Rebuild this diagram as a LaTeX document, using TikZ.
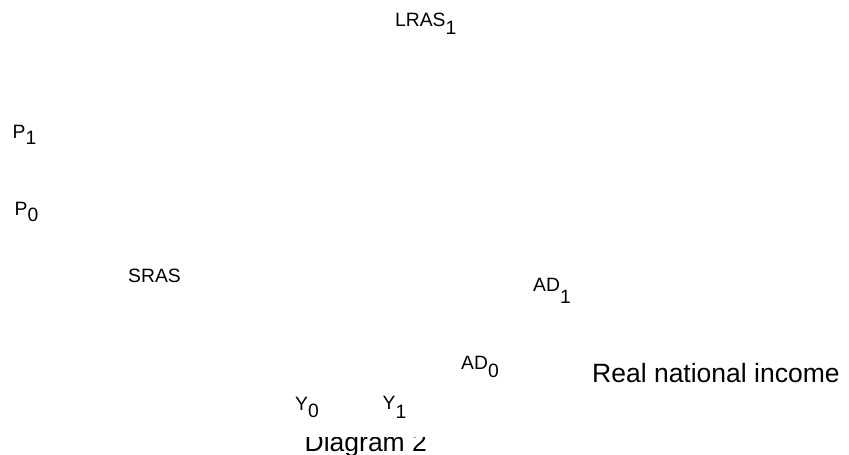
\documentclass[tikz,border=0pt]{standalone}
\usepackage{fontspec}
\setmainfont{Liberation Sans}
\newcommand{\lowsub}[2]{\raisebox{-#2pt}{#1}}
\begin{document}
\begin{tikzpicture}[x=1pt,y=1pt,
  lbl/.style={anchor=base west,inner sep=0pt,font=\fontsize{19.3}{22}\selectfont},
  big/.style={anchor=base west,inner sep=0pt,font=\fontsize{26.5}{29}\selectfont}]
\useasboundingbox (0,0) rectangle (849,455);
\node[lbl] (lras) at (395,428.5) {LRAS\lowsub{1}{8}};
\node[lbl] (p1) at (12.5,316) {P\lowsub{1}{6}};
\node[lbl] (p0) at (14.5,239) {P\lowsub{0}{6}};
\node[lbl] (sras) at (128,172) {SRAS};
\node[lbl] (ad1) at (533,163) {AD\lowsub{1}{12}};
\node[lbl] (ad0) at (461,85) {AD\lowsub{0}{8}};
\node[big] (rni) at (592,72) {Real national income};
\node[lbl] (y0) at (295,44.3) {Y\lowsub{0}{7.3}};
\node[lbl] (y1) at (382.5,45.7) {Y\lowsub{1}{9}};
\node[big] (diag) at (304.5,3.3) {Diagram 2};
\fill[white] (295,17.5) rectangle (440,36);
\end{tikzpicture}
\end{document}
